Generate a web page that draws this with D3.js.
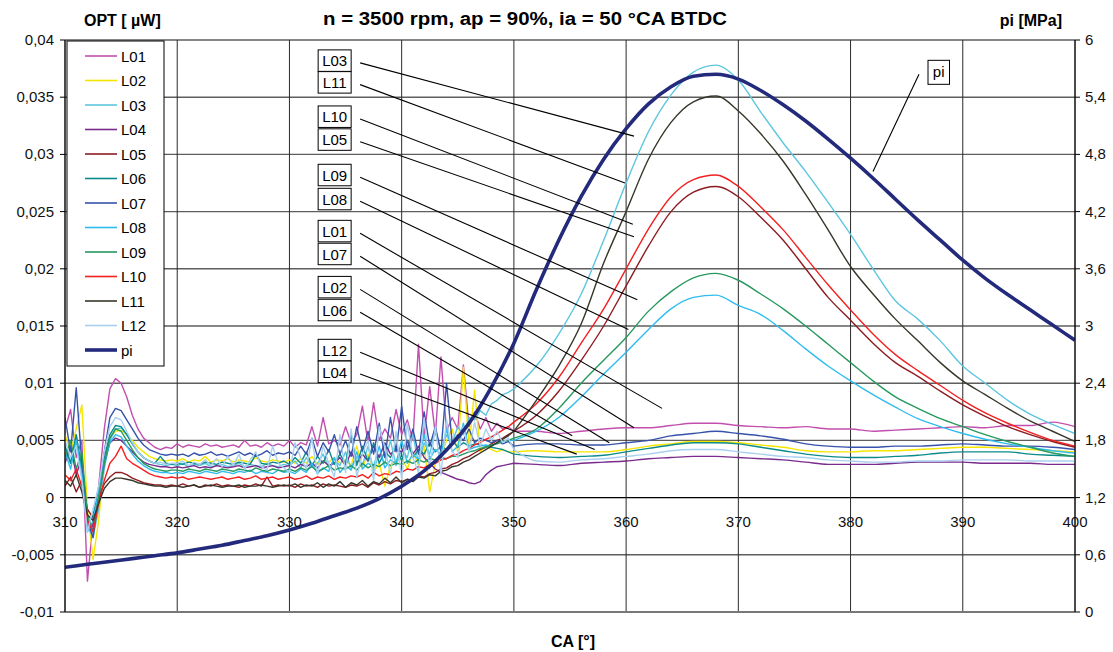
<!DOCTYPE html>
<html lang="en">
<head>
<meta charset="utf-8"/>
<title>OPT and pi vs CA</title>
<script src="https://d3js.org/d3.v7.min.js"></script>
<style>
	body { margin: 0; background: #fff; }
	text { font-family: "Liberation Sans", Arial, sans-serif; }
</style>
</head>
<body>
<script>
// crank angle samples [deg] - 0.5 deg steps in the noisy part, 2 deg after 350
var ca = [310,310.5,311,311.5,312,312.5,313,313.5,314,314.5,
	315,315.5,316,316.5,317,317.5,318,318.5,319,319.5,
	320,320.5,321,321.5,322,322.5,323,323.5,324,324.5,
	325,325.5,326,326.5,327,327.5,328,328.5,329,329.5,
	330,330.5,331,331.5,332,332.5,333,333.5,334,334.5,
	335,335.5,336,336.5,337,337.5,338,338.5,339,339.5,
	340,340.5,341,341.5,342,342.5,343,343.5,344,344.5,
	345,345.5,346,346.5,347,347.5,348,348.5,349,349.5,
	350,352,354,356,358,360,362,364,366,368,370,372,374,376,378,380,382,384,386,388,390,392,394,396,398,400];

// OPT signals, typed in units of 0.0001 uW
var L01 = [60,77,35,50,-73,-20,10,60,95,104, 100,88,72,60,52,48,44,42,44,43, 47,44,46,45,44,47,45,46,44,45, 46,44,50,45,46,44,48,45,47,45,
	50,44,48,46,62,45,70,47,50,46, 62,48,55,80,48,83,50,60,52,77, 55,68,50,134,52,97,55,123,58,70, 60,116,62,75,60,70,58,65,60,62,
	58, 58,56,58,60,61,61,63,65,65,63,62,61,62,60,60,58,59,60,61,62,61,63,63,66,62];
var L02 = [55,40,60,81,-10,-54,-20,30,52,58, 59,55,50,44,40,36,34,33,32,33, 32,34,31,33,32,36,31,33,32,34, 31,33,32,31,35,32,31,33,32,31,
	33,30,34,30,36,29,32,31,35,30, 33,28,45,26,38,22,30,10,28,33, 35,25,40,28,45,5,30,35,50,60, 40,114,45,94,40,45,42,40,42,40,
	40, 41,40,40,40,42,45,47,49,49,48,46,44,41,40,40,41,41,42,43,44,44,43,42,41,40];
var L03 = [45,30,55,20,-25,-35,-10,25,50,60, 61,55,48,40,35,32,30,29,28,29, 28,30,27,29,28,30,27,28,29,27, 28,30,27,29,28,27,30,28,27,29,
	28,32,26,35,27,30,38,26,33,28, 40,25,36,28,45,24,38,30,50,28, 42,35,55,30,48,38,60,40,55,48, 62,55,70,68,76,72,82,85,90,92,
	95, 115,143,178,225,275,320,352,372,378,365,337,310,285,258,230,200,172,156,137,115,100,85,73,64,56];
var L04 = [30,45,20,35,-20,-25,0,30,48,52, 50,45,40,35,31,29,28,27,27,26, 27,26,27,28,26,27,26,28,27,26, 27,28,26,27,28,26,27,28,26,27,
	28,26,29,27,30,26,32,28,30,35, 28,40,30,38,32,45,35,48,38,42, 40,50,38,45,35,30,25,22,20,18, 16,15,13,12,14,20,24,27,28,29,
	30, 29,28,30,31,32,34,35,36,36,35,34,33,31,29,29,29,30,31,31,31,30,30,30,29,29];
var L05 = [10,18,5,15,-10,-18,0,12,18,22, 22,20,17,15,13,12,11,11,10,11, 10,12,10,11,9,11,10,12,10,11, 10,9,11,10,12,10,18,10,11,10,
	11,9,12,10,11,9,12,10,11,10, 9,11,10,12,9,13,11,14,12,15, 14,16,15,19,18,21,22,25,26,29, 31,34,36,39,42,44,47,50,52,55,
	58, 72,93,120,150,185,220,250,267,272,263,245,225,200,175,155,135,118,106,93,81,71,62,55,49,44];
var L06 = [45,30,55,25,-25,-15,5,35,55,63, 62,55,47,40,35,32,30,36,30,29, 30,29,31,30,29,31,30,29,31,30, 29,31,30,29,38,30,29,31,30,32,
	29,35,30,40,28,36,30,42,29,38, 30,55,28,45,32,48,30,40,35,45, 32,50,35,42,38,48,40,45,42,50, 44,48,45,47,46,45,44,43,42,40,
	38, 36,35,36,37,40,43,46,48,48,47,44,41,38,36,35,35,36,37,39,40,40,40,38,37,36];
var L07 = [70,40,96,30,-20,-35,0,40,70,78, 76,68,60,52,46,42,40,38,37,38, 37,38,36,39,37,38,40,37,38,36, 38,40,37,39,36,38,41,37,39,38,
	40,37,45,38,52,36,48,40,55,38, 50,36,62,40,58,38,65,35,70,40, 80,42,60,38,75,45,62,40,100,48, 55,50,60,48,52,50,48,50,47,49,
	45, 47,47,46,46,48,50,54,56,58,56,54,51,47,45,44,44,45,45,46,47,46,45,45,44,42];
var L08 = [40,25,50,20,-30,-20,5,30,48,55, 53,45,38,32,28,25,23,22,22,21, 22,21,23,22,21,23,22,21,23,22, 21,23,22,24,21,23,22,21,24,22,
	23,21,25,22,30,21,26,23,35,22, 28,24,40,25,30,27,45,26,33,30, 50,30,38,33,55,34,42,38,60,40, 45,65,42,44,45,46,45,48,49,50,
	50, 58,70,88,108,127,147,165,175,177,168,160,146,130,115,102,90,79,69,62,56,51,47,44,41,39];
var L09 = [35,50,25,40,-15,-30,0,30,52,60, 58,50,42,35,30,27,25,24,23,24, 24,23,25,24,23,25,24,23,25,24, 23,25,24,23,26,24,23,25,24,23,
	25,23,26,24,27,23,25,28,24,26, 25,28,24,30,26,29,27,31,28,30, 29,32,30,33,31,34,33,35,34,36, 36,38,40,41,43,44,46,47,49,50,
	52, 60,78,100,120,140,163,180,192,196,190,178,165,150,134,118,102,88,78,69,62,55,49,44,39,36];
var L10 = [20,15,25,10,-20,-30,-5,15,30,36, 45,34,30,27,24,21,19,18,17,18, 17,18,16,17,18,17,16,17,18,16, 17,18,16,17,19,16,17,18,16,17,
	18,16,17,19,16,18,17,19,16,18, 17,19,18,20,17,22,19,21,20,23, 22,25,24,27,26,29,30,33,34,37, 38,41,43,46,48,51,53,56,59,62,
	66, 82,105,135,165,200,235,263,278,282,272,254,234,210,186,164,143,125,111,98,85,74,65,57,50,45];
var L11 = [15,10,20,5,-15,-20,-5,8,14,17, 17,16,15,13,12,11,10,10,9,10, 10,9,10,11,9,10,11,10,9,10, 10,11,9,10,10,11,10,9,10,11,
	10,12,9,11,10,13,9,12,10,14, 9,13,11,15,10,14,12,17,13,18, 13,16,14,18,17,20,19,23,24,27, 28,31,33,36,39,42,45,48,51,54,
	58, 85,115,152,205,250,296,328,346,351,338,318,294,265,234,202,178,156,137,118,102,90,78,67,58,49];
var L12 = [50,35,45,15,-30,-10,10,40,62,70, 68,58,48,40,35,32,30,31,29,30, 30,32,28,31,29,33,28,34,27,36, 28,38,25,33,40,27,24,45,30,26,
	22,48,35,25,52,20,45,30,18,55, 22,60,18,38,50,15,62,44,20,58, 16,65,35,22,70,25,62,20,68,40, 35,62,40,66,45,60,50,58,48,52,
	42, 32,31,33,34,36,38,41,42,42,40,38,36,35,33,32,31,31,32,32,33,33,33,32,32,32];

// cylinder pressure pi [MPa]
var piCA = [310,312,314,316,318,320,322,324,326,328,330,332,334,336,338,340,342,344,346,348,350,
	352,354,356,358,360,362,364,366,368,370,372,374,376,378,380,382,384,386,388,390,392,394,396,398,400];
var pi = [0.47,0.50,0.53,0.56,0.59,0.62,0.66,0.70,0.75,0.80,0.86,0.93,1.01,1.09,1.19,1.32,1.48,1.70,1.98,2.36,2.82,
	3.38,3.90,4.36,4.75,5.07,5.33,5.51,5.62,5.64,5.59,5.47,5.32,5.15,4.96,4.76,4.55,4.33,4.11,3.90,3.69,3.50,3.33,3.17,3.01,2.85];

var names = ["L01","L02","L03","L04","L05","L06","L07","L08","L09","L10","L11","L12"];
var colors = ["#c24fae","#f5e600","#5cc6df","#7a2b8c","#8c1c22","#0d8b8a","#3652aa","#2fbcef","#26995f","#f42020","#36372a","#a9d0f0"];
var series = [L01,L02,L03,L04,L05,L06,L07,L08,L09,L10,L11,L12];

// tick labels
var optTicks = [-0.01,-0.005,0,0.005,0.01,0.015,0.02,0.025,0.03,0.035,0.04];
var piTicks = [0,0.6,1.2,1.8,2.4,3,3.6,4.2,4.8,5.4,6];
var caTicks = [310,320,330,340,350,360,370,380,390,400];

// leader line annotations: label anchor and target, in data units
var notes = [
	{n:"L03", from:[336.3,0.0380], to:[360.7,0.0316]},
	{n:"L11", from:[336.3,0.0361], to:[359.9,0.0275]},
	{n:"L10", from:[336.3,0.0331], to:[360.6,0.0239]},
	{n:"L05", from:[336.3,0.0311], to:[360.7,0.0228]},
	{n:"L09", from:[336.3,0.0280], to:[361.0,0.0173]},
	{n:"L08", from:[336.3,0.0259], to:[360.2,0.0147]},
	{n:"L01", from:[336.3,0.0231], to:[363.2,0.0078]},
	{n:"L07", from:[336.3,0.0211], to:[360.7,0.0061]},
	{n:"L02", from:[336.3,0.0182], to:[358.5,0.0048]},
	{n:"L06", from:[336.3,0.0162], to:[355.2,0.0054]},
	{n:"L12", from:[336.3,0.0127], to:[357.2,0.0042]},
	{n:"L04", from:[336.3,0.0108], to:[355.6,0.0038]}
];
var piNote = {n:"pi", from:[386.1,5.64], to:[382.0,4.62]};

var w = 1113, h = 652;
var padL = 65, padR = 1075, padT = 40, padB = 612;
var split = 80; // index of 350 deg: noisy part before, smooth part after

var x = d3.scaleLinear().domain([310, 400]).range([padL, padR]);
var y = d3.scaleLinear().domain([-0.01, 0.04]).range([padB, padT]);
var y2 = d3.scaleLinear().domain([0, 6]).range([padB, padT]);

var fmt = function(v) { return String(+v.toFixed(3)).replace(".", ","); };

var svg = d3.select("body").append("svg")
	.attr("width", w)
	.attr("height", h);

svg.append("clipPath").attr("id", "plot")
	.append("rect").attr("x", padL).attr("y", padT)
	.attr("width", padR - padL).attr("height", padB - padT);

// grid
svg.selectAll(".hgrid").data(optTicks).enter().append("line")
	.attr("x1", padL).attr("x2", padR)
	.attr("y1", function(d) {return y(d);}).attr("y2", function(d) {return y(d);})
	.attr("stroke", function(d) {return d == 0 ? "#000" : "#5e5e5e";})
	.attr("stroke-width", function(d) {return d == 0 ? 1.2 : 1.4;});
svg.selectAll(".vgrid").data(caTicks).enter().append("line")
	.attr("x1", function(d) {return x(d);}).attr("x2", function(d) {return x(d);})
	.attr("y1", padT).attr("y2", padB)
	.attr("stroke", "#2a2a2a")
	.attr("stroke-width", 1);
svg.append("line").attr("x1", padL).attr("x2", padR).attr("y1", padB).attr("y2", padB)
	.attr("stroke", "#777").attr("stroke-width", 2);

// OPT curves: straight segments for the noisy part, smooth curve for the peaks
var noisyLine = d3.line()
	.x(function(d) {return x(d[0]);})
	.y(function(d) {return y(d[1] * 0.0001);});
var smoothLine = d3.line()
	.x(function(d) {return x(d[0]);})
	.y(function(d) {return y(d[1] * 0.0001);})
	.curve(d3.curveMonotoneX);

var g = svg.append("g").attr("clip-path", "url(#plot)");
series.forEach(function(s, k) {
	var pts = s.map(function(v, i) {return [ca[i], v];});
	var p = noisyLine(pts.slice(0, split + 1)) + smoothLine(pts.slice(split)).replace(/^M/, "L");
	g.append("path")
		.attr("d", p)
		.attr("fill", "none")
		.attr("stroke", colors[k])
		.attr("stroke-width", 1.4)
		.attr("stroke-linejoin", "round");
});

// pressure curve on the right axis
var piLine = d3.line()
	.x(function(d, i) {return x(piCA[i]);})
	.y(function(d) {return y2(d);})
	.curve(d3.curveMonotoneX);
g.append("path")
	.attr("d", piLine(pi))
	.attr("fill", "none")
	.attr("stroke", "#232a7c")
	.attr("stroke-width", 3.6);

// axes
svg.append("line").attr("x1", padL).attr("x2", padL).attr("y1", padT).attr("y2", padB).attr("stroke", "#000");
svg.append("line").attr("x1", padR).attr("x2", padR).attr("y1", padT).attr("y2", padB).attr("stroke", "#000");

svg.selectAll(".ltick").data(optTicks).enter().append("line")
	.attr("x1", padL - 5).attr("x2", padL)
	.attr("y1", function(d) {return y(d);}).attr("y2", function(d) {return y(d);})
	.attr("stroke", "#000");
svg.selectAll(".llab").data(optTicks).enter().append("text")
	.attr("x", padL - 11)
	.attr("y", function(d) {return y(d) + 5;})
	.attr("text-anchor", "end")
	.attr("font-size", "15px")
	.attr("fill", "#111")
	.text(fmt);

svg.selectAll(".rtick").data(piTicks).enter().append("line")
	.attr("x1", padR).attr("x2", padR + 5)
	.attr("y1", function(d) {return y2(d);}).attr("y2", function(d) {return y2(d);})
	.attr("stroke", "#000");
svg.selectAll(".rlab").data(piTicks).enter().append("text")
	.attr("x", padR + 10)
	.attr("y", function(d) {return y2(d) + 5;})
	.attr("font-size", "15px")
	.attr("fill", "#111")
	.text(fmt);

svg.selectAll(".xlab").data(caTicks).enter().append("text")
	.attr("x", function(d) {return x(d);})
	.attr("y", y(0) + 29)
	.attr("text-anchor", "middle")
	.attr("font-size", "15px")
	.attr("fill", "#111")
	.text(function(d) {return d;});

// titles
svg.append("text").attr("x", 525).attr("y", 25).attr("text-anchor", "middle")
	.attr("font-size", "18px").attr("font-weight", "bold")
	.attr("textLength", 404).attr("lengthAdjust", "spacingAndGlyphs")
	.text("n = 3500 rpm, ap = 90%, ia = 50 °CA BTDC");
svg.append("text").attr("x", 84).attr("y", 26)
	.attr("font-size", "16px").attr("font-weight", "bold")
	.text("OPT [ \u00b5W]");
svg.append("text").attr("x", 1062).attr("y", 26).attr("text-anchor", "end")
	.attr("font-size", "16px").attr("font-weight", "bold")
	.text("pi [MPa]");
svg.append("text").attr("x", 573).attr("y", 647).attr("text-anchor", "middle")
	.attr("font-size", "16px").attr("font-weight", "bold")
	.text("CA [°]");

// leader lines and label boxes
var ann = svg.append("g");
notes.forEach(function(d) {
	var x0 = x(d.from[0]), y0 = y(d.from[1]);
	ann.append("line")
		.attr("x1", x0).attr("y1", y0)
		.attr("x2", x(d.to[0])).attr("y2", y(d.to[1]))
		.attr("stroke", "#000").attr("stroke-width", 1.1);
	ann.append("rect")
		.attr("x", x0 - 42).attr("y", y0 - 13)
		.attr("width", 33).attr("height", 21.5)
		.attr("fill", "#fff").attr("stroke", "#000");
	ann.append("text")
		.attr("x", x0 - 25.5).attr("y", y0 + 3.5)
		.attr("text-anchor", "middle")
		.attr("font-size", "15px")
		.text(d.n);
});
var px0 = x(piNote.from[0]), py0 = y2(piNote.from[1]);
ann.append("line")
	.attr("x1", px0).attr("y1", py0)
	.attr("x2", x(piNote.to[0])).attr("y2", y2(piNote.to[1]))
	.attr("stroke", "#000").attr("stroke-width", 1.1);
ann.append("rect")
	.attr("x", px0 + 9).attr("y", py0 - 14)
	.attr("width", 21.5).attr("height", 24)
	.attr("fill", "#fff").attr("stroke", "#000");
ann.append("text")
	.attr("x", px0 + 19.7).attr("y", py0 + 3)
	.attr("text-anchor", "middle")
	.attr("font-size", "15px")
	.text(piNote.n);

// legend
var leg = svg.append("g");
leg.append("rect").attr("x", 67).attr("y", 41).attr("width", 97).attr("height", 325)
	.attr("fill", "#fff").attr("stroke", "#000");
var legNames = names.concat(["pi"]);
var legColors = colors.concat(["#232a7c"]);
leg.selectAll(".lsw").data(legNames).enter().append("line")
	.attr("x1", 85).attr("x2", 117)
	.attr("y1", function(d, i) {return 56 + i * 24.5;})
	.attr("y2", function(d, i) {return 56 + i * 24.5;})
	.attr("stroke", function(d, i) {return legColors[i];})
	.attr("stroke-width", function(d) {return d == "pi" ? 3.6 : 1.6;});
leg.selectAll(".ltxt").data(legNames).enter().append("text")
	.attr("x", 121)
	.attr("y", function(d, i) {return 56 + i * 24.5 + 5.5;})
	.attr("font-size", "15px")
	.text(function(d) {return d;});
</script>
</body>
</html>
